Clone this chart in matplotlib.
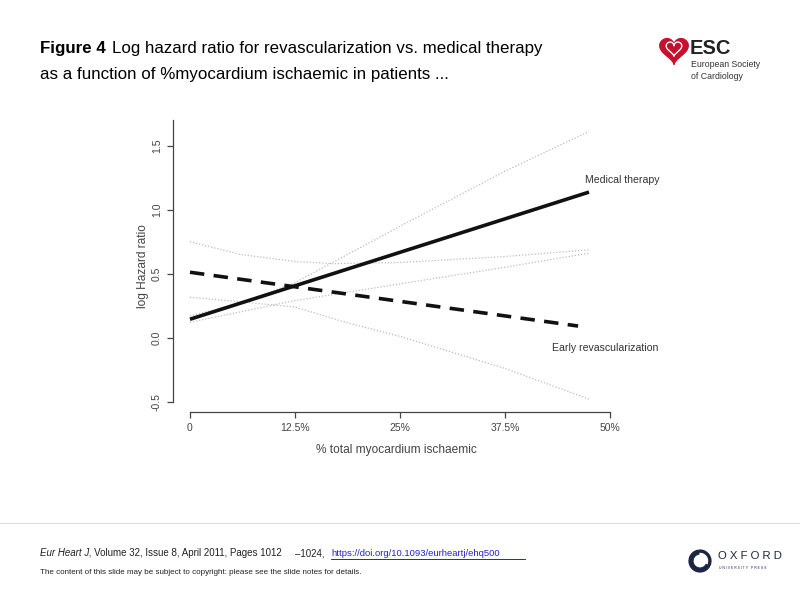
import numpy as np
import matplotlib.pyplot as plt
from matplotlib.patches import Wedge

plt.rcParams['font.family'] = ['Liberation Sans', 'DejaVu Sans']

# data (x in % myocardium ischaemic, y = log hazard ratio)
med_x = [0, 47.5]
med_y = [0.144, 1.137]
rev_x = [0, 46.2]
rev_y = [0.511, 0.091]

med_hi_x = [0, 6, 12.5, 25, 37.5, 47.5]
med_hi_y = [0.17, 0.27, 0.43, 0.87, 1.30, 1.61]
med_lo_x = [0, 12.5, 25, 37.5, 47.5]
med_lo_y = [0.12, 0.29, 0.42, 0.55, 0.66]
rev_hi_x = [0, 6, 12.5, 17, 25, 37.5, 47.5]
rev_hi_y = [0.75, 0.65, 0.595, 0.578, 0.587, 0.634, 0.686]
rev_lo_x = [0, 6, 12.5, 18, 25, 37.5, 47.5]
rev_lo_y = [0.316, 0.28, 0.24, 0.13, 0.01, -0.24, -0.48]

xticks = [0, 12.5, 25, 37.5, 50]
xticklabels = ['0', '12.5%', '25%', '37.5%', '50%']
yticks = [-0.5, 0.0, 0.5, 1.0, 1.5]
yticklabels = ['-0.5', '0.0', '0.5', '1.0', '1.5']

fig = plt.figure(figsize=(8, 6), dpi=100)

# title
fig.text(40/800, 1-48/600, 'Figure 4', fontsize=12.2, va='center', fontweight='bold')
fig.text(112/800, 1-48/600, 'Log hazard ratio for revascularization vs. medical therapy',
         fontsize=12.2, va='center')
fig.text(40/800, 1-74/600, 'as a function of %myocardium ischaemic in patients ...',
         fontsize=12.2, va='center')

# main plot
ax = fig.add_axes([173/800, 1-411.7/600, (620-173)/800, (411.7-120)/600])
ax.set_xlim(-2.02, 51.19)
ax.set_ylim(-0.578, 1.70)

gray = '#bdbdbd'
for xs, ys in [(med_hi_x, med_hi_y), (med_lo_x, med_lo_y),
               (rev_hi_x, rev_hi_y), (rev_lo_x, rev_lo_y)]:
    ax.plot(xs, ys, color=gray, lw=0.9, ls=(0, (1, 1.5)))
ax.plot(med_x, med_y, color='#111111', lw=2.6, solid_capstyle='butt')
ax.plot(rev_x, rev_y, color='#111111', lw=2.6, ls=(0, (4, 2.6)), dash_capstyle='butt')

ax.text(47.0, 1.232, 'Medical therapy', fontsize=7.6, color='#333333', va='center')
ax.text(43.1, -0.08, 'Early revascularization', fontsize=7.6, color='#333333', va='center')

for s in ['top', 'right']:
    ax.spines[s].set_visible(False)
ax.spines['left'].set_bounds(-0.5, 1.70)
ax.spines['bottom'].set_bounds(0, 50)
ax.spines['bottom'].set_position(('data', -0.578))
for s in ['left', 'bottom']:
    ax.spines[s].set_color('#444444')
    ax.spines[s].set_linewidth(0.9)
ax.set_xticks(xticks)
ax.set_xticklabels(xticklabels)
ax.set_yticks(yticks)
ax.set_yticklabels(yticklabels, rotation=90, va='center')
ax.tick_params(direction='out', length=4, width=0.9, color='#444444',
               labelsize=7.5, labelcolor='#444444', pad=4)
ax.set_xlabel('% total myocardium ischaemic', fontsize=8.6, color='#444444', labelpad=8)
ax.set_ylabel('log Hazard ratio', fontsize=8.6, color='#444444', labelpad=2)

# ESC logo
lax = fig.add_axes([658/800, 1-66/600, 32/800, 30/600])
t = np.linspace(0, 2*np.pi, 200)
hx = 16*np.sin(t)**3
hy = 13*np.cos(t) - 5*np.cos(2*t) - 2*np.cos(3*t) - np.cos(4*t)
lax.fill(hx, hy, color='#c8102e')
lax.plot(hx*0.55, hy*0.55 + 1.5, color='white', lw=1.0)
lax.set_xlim(-18, 18)
lax.set_ylim(-18, 14)
lax.set_aspect('equal')
lax.axis('off')
fig.text(690/800, 1-49/600, 'ESC', fontsize=14.5, fontweight='bold', color='#222222', va='center')
fig.text(691/800, 1-70.5/600, 'European Society\nof Cardiology', fontsize=6.3,
         color='#333333', va='center', linespacing=1.3)

# footer
fig.add_artist(plt.Line2D([0, 1], [1-523/600, 1-523/600], color='#dddddd', lw=0.8))
fig.text(40/800, 1-553/600, 'Eur Heart J', fontsize=7, style='italic', va='center', color='#222222')
fig.text(86/800, 1-553/600, ' , Volume 32, Issue 8, April 2011, Pages 1012',
         fontsize=7, va='center', color='#222222')
fig.text(295/800, 1-553/600, '\u20131024,', fontsize=7, va='center', color='#222222')
fig.text(331/800, 1-553/600, 'https://doi.org/10.1093/eurheartj/ehq500', fontsize=6.8,
         va='center', color='#2222cc')
fig.add_artist(plt.Line2D([331/800, 525/800], [1-559/600, 1-559/600], color='#2222cc', lw=0.7))
fig.text(40/800, 1-572/600, 'The content of this slide may be subject to copyright: please see the slide notes for details.',
         fontsize=5.8, va='center', color='#222222')

# OUP logo
oax = fig.add_axes([688/800, 1-573/600, 24/800, 24/600])
oax.add_patch(Wedge((0, 0), 1.0, 100, 330, width=0.35, color='#1c2541'))
oax.add_patch(Wedge((0, 0), 1.0, 335, 95, width=0.18, color='#1c2541'))
oax.set_xlim(-1.1, 1.1)
oax.set_ylim(-1.1, 1.1)
oax.set_aspect('equal')
oax.axis('off')
fig.text(718/800, 1-556/600, 'O X F O R D', fontsize=8.2, color='#1c2541', va='center')
fig.text(719/800, 1-568/600, 'U N I V E R S I T Y   P R E S S', fontsize=2.4,
         color='#1c2541', va='center')

fig.savefig('out.png', dpi=100)
